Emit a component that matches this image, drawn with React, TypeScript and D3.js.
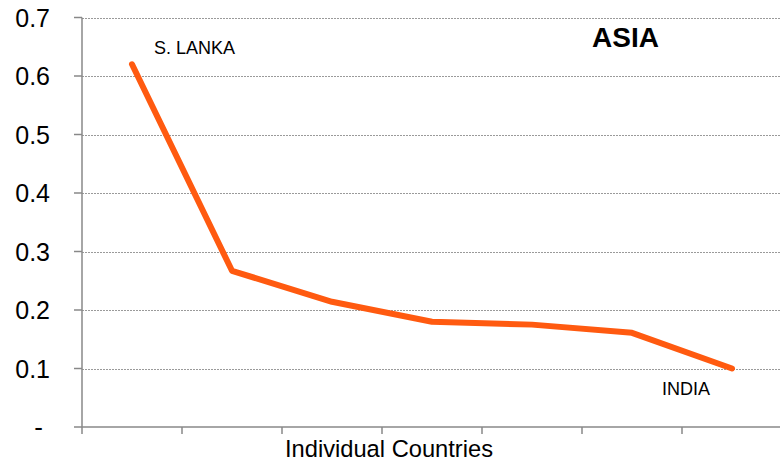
import React from "react";
import * as d3 from "d3";

const categories = ["S. LANKA", "C2", "C3", "C4", "C5", "C6", "INDIA"];
const values = [0.62, 0.267, 0.214, 0.18, 0.175, 0.161, 0.1];
const yTicks = [0, 0.1, 0.2, 0.3, 0.4, 0.5, 0.6, 0.7];
const yTickLabels = ["-", "0.1", "0.2", "0.3", "0.4", "0.5", "0.6", "0.7"];
const title = "ASIA";
const xTitle = "Individual Countries";

const W = 780;
const H = 462;
const left = 82;
const plotRight = 782;
const top = 17.5;
const bottom = 427;

export default function App() {
  const x = d3.scaleBand<string>().domain(categories).range([left, plotRight]);
  const y = d3.scaleLinear().domain([0, 0.7]).range([bottom, top]);
  const line = d3
    .line<number>()
    .x((_, i) => (x(categories[i]) as number) + x.bandwidth() / 2)
    .y((d) => y(d));
  const font = "'Liberation Sans', Arial, sans-serif";
  const axisColor = "#888888";
  const boundaries = categories.map((c) => x(c) as number);
  const last = values.length - 1;
  const px = (i: number) => (x(categories[i]) as number) + x.bandwidth() / 2;

  return (
    <svg
      width={W}
      height={H}
      style={{ position: "absolute", left: 0, top: 0, background: "#fff" }}
      fontFamily={font}
    >
      {yTicks.slice(1).map((t) => (
        <line
          key={"g" + t}
          x1={left}
          x2={W}
          y1={Math.round(y(t)) + 0.5}
          y2={Math.round(y(t)) + 0.5}
          stroke="#9a9a9a"
          strokeWidth={1}
          strokeDasharray="2,1"
        />
      ))}
      {yTicks.map((t, i) => (
        <g key={"t" + t}>
          <line x1={74} x2={left} y1={y(t)} y2={y(t)} stroke={axisColor} strokeWidth={1.5} />
          <text
            x={i === 0 ? 43 : 50}
            y={y(t)}
            dy="0.36em"
            textAnchor="end"
            fontSize={i === 0 ? 26 : 25}
            fill="#000"
          >
            {yTickLabels[i]}
          </text>
        </g>
      ))}
      <line x1={left} x2={left} y1={top} y2={bottom} stroke={axisColor} strokeWidth={1.5} />
      <line x1={left} x2={W} y1={bottom} y2={bottom} stroke={axisColor} strokeWidth={1.5} />
      {boundaries.map((b) => (
        <line key={"xt" + b} x1={b} x2={b} y1={bottom} y2={434} stroke={axisColor} strokeWidth={1.5} />
      ))}
      <path
        d={line(values) || ""}
        fill="none"
        stroke="#ff5a10"
        strokeWidth={6}
        strokeLinecap="round"
        strokeLinejoin="round"
      />
      <text x={px(0) + 22} y={54} fontSize={18} fill="#000">
        {categories[0]}
      </text>
      <text x={px(last) - 70} y={395} fontSize={18} fill="#000">
        {categories[last]}
      </text>
      <text x={592} y={47} fontSize={28} fontWeight="bold" fill="#000">
        {title}
      </text>
      <text x={389} y={457} fontSize={23.7} textAnchor="middle" fill="#000">
        {xTitle}
      </text>
    </svg>
  );
}
